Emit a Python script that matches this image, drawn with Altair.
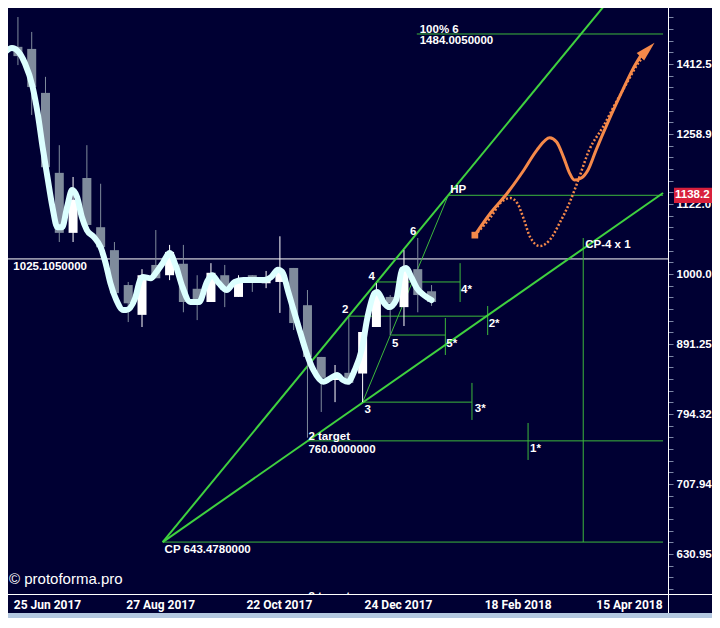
import altair as alt
import pandas as pd
import numpy as np

# ---------------- data ----------------
# weekly candles (week index 0 = early Jul 2017)
weeks  = list(range(31))
opens  = [1453,1448,1347,1181,1070,1171,1080,1040,982,935,1015,998,1017,976,955,998,963,998,985,987,1010,950,872.5,840,850,849,916.5,963,947,1008,972]
highs  = [1526,1489,1383,1236,1173,1236,1160,1054,987,1008,1075,1049,1049,998,1018,1015,998,998,1005,1064,1010,974,872.5,861,932,909,985,966,1040,1061,982]
lows   = [1410,1299,1190,1054,1054,1084,1040,969,924,916.5,993,990,939,927,955,947,963,971,977,938,912,764,797,810,836,810,916.5,904.5,918,939,949]
closes = [1431,1360,1192,1070,1130,1084,1045,969,953,998,993,1037,955,953,1002,974,990,987,990,1007,922.5,872.5,843,847,836,909,971,953,1007,966,955]

# smoothed curve
curve_w = [-0.93,-0.43,0.5,1.07,1.43,1.79,2.14,2.5,2.86,3.21,3.57,3.93,4.29,4.64,5.0,5.5,6.0,6.36,6.71,7.14,
           7.64,7.86,8.5,8.86,9.07,9.64,10.0,10.5,11.0,11.43,11.93,12.5,13.14,13.71,14.07,14.57,15.14,15.71,16.36,16.93,
           17.86,18.36,18.86,19.21,19.57,19.93,20.36,20.86,21.43,22.14,22.79,23.14,23.57,23.93,24.43,24.93,25.36,25.86,26.07,26.57,
           26.93,27.43,27.86,28.14,28.57,28.93,29.43,30.0]
curve_p = [1441,1450,1415,1360,1303,1232,1173,1117,1080,1080,1117,1148,1135,1098,1075,1063,1045,1018,985,958,
           942.5,942.5,961,990,995,993,1002,1018,1035,1015,979,955,955,987,998,985,974,987,990,990,
           990,995,1007,1002,974,947,916.5,882.6,854,837.5,844,847,840,837.5,854,882.6,932,969,971,953,
           947,958,1007,1010,993,977,966,958]

# key levels / points
CP_W, CP_P = 10.5, 643.478
HP_W, HP_P = 31.21, 1138.2
LEVEL_1025 = 1025.105

# horizontal green segments
hs_w  = [28.93, 31.21, 10.5, 21.0, 26.0, 24.0, 27.07, 25.0]
hs_w2 = [46.79, 46.79, 46.79, 46.79, 32.07, 34.07, 31.0, 32.93]
hs_p  = [1484.005, 1138.2, 643.478, 760.0, 987.0, 933.0, 904.5, 810.0]
# vertical green segments
vs_w  = [32.07, 34.07, 31.0, 32.93, 37.0, 41.0]
vs_p  = [1018, 948.7, 930.2, 836, 782.7, 1061]
vs_p2 = [955, 904.5, 875.3, 786.6, 736.5, 643.478]

# trend lines
upper_w, upper_p = [10.5, 42.86], [643.478, 1569]
lower_w, lower_p = [10.5, 46.79], [643.478, 1142.5]
thin_w, thin_p = [25.0, 31.21], [810.0, 1138.2]

# forecast paths (orange)
solid_w = [33.14,34.29,35.5,36.71,37.64,38.57,39.07,39.57,40.0,40.36,40.86,41.36,41.93,42.86,43.86,44.57,45.29]
solid_p = [1066,1106,1142.5,1187,1226,1251,1242.5,1212,1181,1167,1171,1187,1226,1288,1353,1399,1438]
dot_w = [33.14,34.29,35.0,35.71,36.21,36.71,37.14,37.86,38.57,39.29,40.0,40.64,41.43,42.43,43.36,44.29,45.0,45.5]
dot_p = [1066,1098,1124,1133,1124,1093,1063,1047,1057.5,1087.5,1124,1167,1226,1273.5,1325,1376,1415,1434]
arrow_w, arrow_p = [45.57], [1443]

# annotation labels
lab_t = ["2","3","4","5","6","HP","4*","2*","5*","3*","1*","CP-4 x 1","100% 6","1484.0050000",
         "2 target","760.0000000","CP 643.4780000","1025.1050000"]
lab_w = [23.5,25.14,25.43,27.14,28.43,31.36,32.14,34.14,31.07,33.14,37.14,41.14,29.14,29.14,
         21.07,21.07,10.64,-0.33]
lab_p = [937.9,795.6,990.2,886.9,1066,1142.5,969.2,916.5,886.9,797.2,746.2,1043.7,1486.5,1459.8,
         761.0,745.0,632.0,1007]

# axis ticks
y_tick_vals = [630.95, 707.94, 794.32, 891.25, 1000.0, 1122.0, 1258.9, 1412.5]
x_tick_w = [-0.3, 7.857, 16.571, 25.143, 33.857, 41.95]
x_tick_lab = ["25 Jun 2017", "27 Aug 2017", "22 Oct 2017", "24 Dec 2017", "18 Feb 2018", "15 Apr 2018"]

# ---------------- styles ----------------
BG = "#000033"
GREEN = "#3cb83c"
BRIGHT = "#3fd13f"
ORANGE = "#f5894a"
WHITE = "#ffffff"
GRAY = "#7f8b9c"
CURVE = "#dcffff"
FONT = "Liberation Sans"
NARROW = "Liberation Sans Narrow, Roboto, sans-serif"
W, H = 660, 586

xs = alt.Scale(domain=[-0.357, 46.786], nice=False, zero=False)
ys = alt.Scale(type="log", domain=[590.8, 1548.8], nice=False)

minor = [10 ** (2.8 + k / 120) for k in range(-3, 47) if k % 6 != 0]
arr = "[" + ",".join(str(v) for v in y_tick_vals) + "]"
yaxis = alt.Axis(orient="right", values=y_tick_vals + minor, title=None, domain=False, grid=False,
                 tickColor="#7c86a6", tickSize=5, labelPadding=3, labelColor=WHITE, labelFont=FONT,
                 labelFontWeight="bold", labelFontSize=11.5, labelOverlap=False, labelFlush=False,
                 labelExpr=f"indexof({arr}, datum.value) >= 0 ? format(datum.value, '.5r') : ''")


def X(f):
    return alt.X(f, type="quantitative", scale=xs, axis=None)


def Y(f):
    return alt.Y(f, type="quantitative", scale=ys, axis=yaxis)


layers = []

# 1025 white level
layers.append(alt.Chart(pd.DataFrame({"p": [LEVEL_1025]})).mark_rule(color=WHITE, strokeWidth=1)
              .encode(y=Y("p")))

# horizontal / vertical green segments
hdf = pd.DataFrame({"w": hs_w, "w2": hs_w2, "p": hs_p})
layers.append(alt.Chart(hdf).mark_rule(color=GREEN, strokeWidth=1, clip=True)
              .encode(x=X("w"), x2="w2", y=Y("p")))
vdf = pd.DataFrame({"w": vs_w, "p": vs_p, "p2": vs_p2})
layers.append(alt.Chart(vdf).mark_rule(color=GREEN, strokeWidth=1, clip=True)
              .encode(x=X("w"), y=Y("p"), y2="p2"))

# trend lines
tdf = pd.DataFrame({"w": upper_w + lower_w, "p": upper_p + lower_p,
                    "g": ["u", "u", "l", "l"]})
layers.append(alt.Chart(tdf).mark_line(color=BRIGHT, strokeWidth=2, clip=True)
              .encode(x=X("w"), y=Y("p"), detail="g:N"))
layers.append(alt.Chart(pd.DataFrame({"w": thin_w, "p": thin_p})).mark_line(color=GREEN, strokeWidth=1, clip=True)
              .encode(x=X("w"), y=Y("p")))

# candles
cdf = pd.DataFrame({"w": weeks, "o": opens, "h": highs, "l": lows, "c": closes})
cdf["dir"] = np.where(cdf["c"] >= cdf["o"], "up", "down")
cscale = alt.Scale(domain=["up", "down"], range=[WHITE, GRAY])
layers.append(alt.Chart(cdf).mark_rule(strokeWidth=1, clip=True)
              .encode(x=X("w"), y=Y("l"), y2="h", color=alt.Color("dir:N", scale=cscale, legend=None)))
layers.append(alt.Chart(cdf).mark_bar(size=9, clip=True)
              .encode(x=X("w"), y=Y("o"), y2="c", color=alt.Color("dir:N", scale=cscale, legend=None)))

# smoothed curve
layers.append(alt.Chart(pd.DataFrame({"w": curve_w, "p": curve_p}))
              .mark_line(color=CURVE, strokeWidth=6, interpolate="monotone", strokeCap="round", clip=True)
              .encode(x=X("w"), y=Y("p")))

# orange forecast
layers.append(alt.Chart(pd.DataFrame({"w": dot_w, "p": dot_p}))
              .mark_line(color=ORANGE, strokeWidth=2.5, strokeDash=[2, 2], interpolate="monotone", clip=True)
              .encode(x=X("w"), y=Y("p")))
layers.append(alt.Chart(pd.DataFrame({"w": solid_w, "p": solid_p}))
              .mark_line(color=ORANGE, strokeWidth=3, interpolate="monotone", clip=True)
              .encode(x=X("w"), y=Y("p")))
layers.append(alt.Chart(pd.DataFrame({"w": arrow_w, "p": arrow_p}))
              .mark_point(shape="M0,-1L0.45,0.7L-0.45,0.7Z", filled=True, opacity=1, color=ORANGE,
                          size=550, angle=45, clip=True)
              .encode(x=X("w"), y=Y("p")))
layers.append(alt.Chart(pd.DataFrame({"w": [solid_w[0]], "p": [solid_p[0]]}))
              .mark_square(color=ORANGE, size=45, opacity=1, clip=True)
              .encode(x=X("w"), y=Y("p")))

# labels
ldf = pd.DataFrame({"w": lab_w, "p": lab_p, "t": lab_t})
layers.append(alt.Chart(ldf).mark_text(align="left", baseline="alphabetic", color=WHITE, font=FONT,
                                       fontWeight="bold", fontSize=11.5)
              .encode(x=X("w"), y=Y("p"), text="t:N"))
layers.append(alt.Chart(pd.DataFrame({"w": [21.07], "p": [585.0], "t": ["3 target"]}))
              .mark_text(align="left", baseline="alphabetic", color=WHITE, font=FONT,
                         fontWeight="bold", fontSize=11.5, clip=True)
              .encode(x=X("w"), y=Y("p"), text="t:N"))

# frame: bottom strip, separator lines
layers.append(alt.Chart(pd.DataFrame({"a": [0]})).mark_rect(color="#b4c8e0")
              .encode(x=alt.value(0), x2=alt.value(704), y=alt.value(605), y2=alt.value(612)))
layers.append(alt.Chart(pd.DataFrame({"a": [0]})).mark_rule(color=WHITE, strokeWidth=1)
              .encode(x=alt.value(0), x2=alt.value(704), y=alt.value(586.5)))
layers.append(alt.Chart(pd.DataFrame({"a": [0]})).mark_rule(color=WHITE, strokeWidth=1)
              .encode(x=alt.value(660.5), y=alt.value(0), y2=alt.value(605)))

# x axis labels
xdf = pd.DataFrame({"w": x_tick_w, "t": x_tick_lab})
layers.append(alt.Chart(xdf).mark_text(align="left", baseline="alphabetic", color=WHITE,
                                       font=NARROW, fontWeight="bold", fontSize=12)
              .encode(x=X("w"), y=alt.value(601), text="t:N"))

# price marker on axis
layers.append(alt.Chart(pd.DataFrame({"p": [HP_P]}))
              .mark_point(shape="M-1,-0.4H1V0.4H-1Z", filled=True, opacity=1, color="#d8203c", size=1444)
              .encode(x=alt.value(685), y=Y("p")))
layers.append(alt.Chart(pd.DataFrame({"p": [HP_P], "t": ["1138.2"]}))
              .mark_text(align="left", baseline="middle", color=WHITE, font=FONT, fontWeight="bold", fontSize=11.5)
              .encode(x=alt.value(667), y=Y("p"), text="t:N"))

# watermark
layers.append(alt.Chart(pd.DataFrame({"t": ["© protoforma.pro"]}))
              .mark_text(align="left", baseline="alphabetic", color=WHITE, font=FONT, fontSize=15)
              .encode(x=alt.value(1), y=alt.value(576), text="t:N"))

chart = alt.layer(*layers).properties(
    width=W, height=H, background=BG,
    autosize=alt.AutoSizeParams(type="none"),
    padding={"left": 0, "top": 0, "right": 44, "bottom": 24},
).configure_view(stroke=None, fill=BG)

chart.save("out.html", embed_options={"renderer": "svg", "actions": False})
